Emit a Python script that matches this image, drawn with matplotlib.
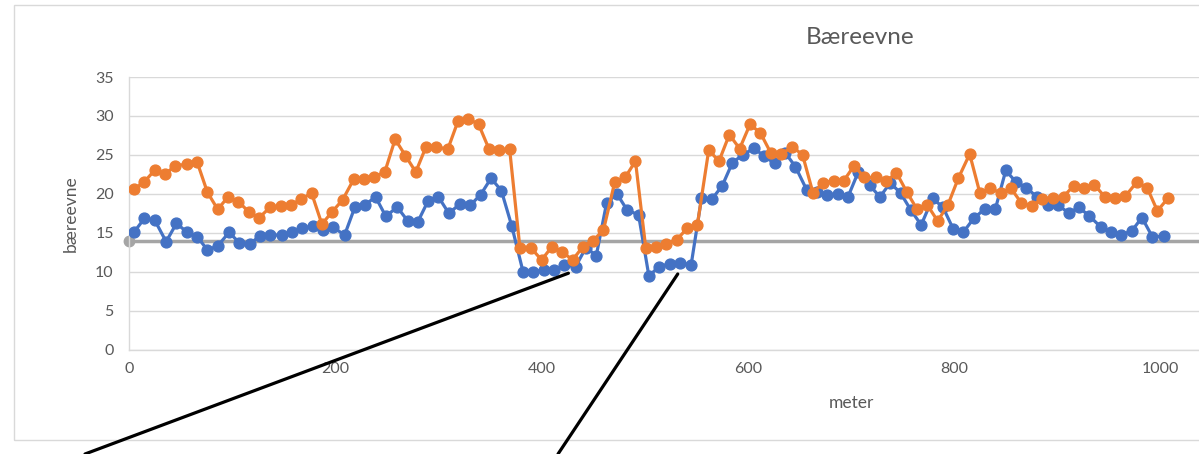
import matplotlib
matplotlib.use("Agg")
import matplotlib.pyplot as plt
from matplotlib.patches import Rectangle, ConnectionPatch

# Bearing capacity along the road, two measurement series and the limit line
meter_blue = [5, 15, 25, 36, 46, 56, 66, 76, 86, 97, 107, 117, 127, 137, 148, 158, 168, 178,
              188, 198, 209, 219, 229, 239, 249, 260, 270, 280, 290, 300, 310, 321, 331, 341,
              351, 361, 371, 382, 392, 402, 412, 422, 433, 443, 453, 463, 473, 483, 494, 504,
              514, 524, 534, 545, 555, 565, 575, 585, 595, 606, 616, 626, 636, 646, 657, 667,
              677, 687, 697, 707, 718, 728, 738, 748, 758, 768, 779, 789, 799, 809, 819, 830,
              840, 850, 860, 870, 880, 891, 901, 911, 921, 931, 942, 952, 962, 972, 982, 992,
              1003]
baereevne_blue = [15.1, 16.85, 16.6, 13.85, 16.2, 15.1, 14.5, 12.8, 13.3, 15.05, 13.7, 13.55,
                  14.6, 14.7, 14.7, 15.05, 15.55, 15.85, 15.35, 15.7, 14.7, 18.3, 18.6, 19.6,
                  17.1, 18.3, 16.55, 16.4, 19.1, 19.6, 17.5, 18.7, 18.55, 19.9, 22.0, 20.4,
                  15.9, 10.0, 10.0, 10.2, 10.2, 10.85, 10.65, 13.1, 12.05, 18.8, 20.0, 17.9,
                  17.3, 9.45, 10.65, 11.0, 11.1, 10.9, 19.4, 19.3, 21.0, 24.0, 25.0, 25.85,
                  24.8, 23.9, 25.3, 23.5, 20.5, 20.2, 19.85, 19.95, 19.6, 22.8, 21.1, 19.6,
                  21.4, 20.1, 17.9, 16.0, 19.4, 18.3, 15.5, 15.1, 16.85, 18.1, 18.1, 23.0,
                  21.5, 20.8, 19.6, 18.6, 18.5, 17.55, 18.25, 17.15, 15.75, 15.1, 14.75, 15.2,
                  16.95, 14.5, 14.55]

meter_orange = [5, 15, 25, 35, 45, 56, 66, 76, 86, 96, 106, 116, 126, 137, 147, 157, 167, 177,
                187, 197, 207, 218, 228, 238, 248, 258, 268, 278, 288, 298, 309, 319, 329, 339,
                349, 359, 369, 379, 390, 400, 410, 420, 430, 440, 450, 460, 471, 481, 491, 501,
                511, 521, 531, 541, 551, 562, 572, 582, 592, 602, 612, 622, 632, 643, 653, 663,
                673, 683, 693, 703, 713, 724, 734, 744, 754, 764, 774, 784, 794, 804, 815, 825,
                835, 845, 855, 865, 875, 885, 896, 906, 916, 926, 936, 946, 956, 966, 977, 987,
                997, 1007]
baereevne_orange = [20.6, 21.55, 23.05, 22.55, 23.6, 23.8, 24.1, 20.2, 18.0, 19.6, 19.0, 17.7,
                    16.9, 18.3, 18.4, 18.6, 19.3, 20.1, 16.1, 17.7, 19.2, 21.9, 21.9, 22.2,
                    22.8, 27.0, 24.9, 22.8, 26.05, 26.05, 25.7, 29.35, 29.65, 28.9, 25.75, 25.6,
                    25.75, 13.0, 13.0, 11.5, 13.2, 12.55, 11.5, 13.2, 14.0, 15.35, 21.55, 22.1,
                    24.2, 13.0, 13.2, 13.6, 14.1, 15.55, 16.0, 25.6, 24.2, 27.6, 25.8, 28.9,
                    27.85, 25.3, 25.05, 26.05, 25.0, 20.15, 21.4, 21.7, 21.7, 23.6, 22.1, 22.1,
                    21.6, 22.7, 20.25, 18.0, 18.55, 16.5, 18.6, 22.0, 25.1, 20.05, 20.7, 20.1,
                    20.7, 18.85, 18.4, 19.3, 19.5, 19.65, 21.05, 20.8, 21.15, 19.6, 19.45, 19.7,
                    21.5, 20.8, 17.8, 19.4]

limit_meter = [0, 1200]
limit_value = [14, 14]

# points the two callout lines start from (meter, bæreevne)
callouts = [(426, 9.8), (532, 9.7)]
callout_ends = [(0.0709, 0.0), (0.4654, 0.0)]

BLUE = "#4472C4"
ORANGE = "#ED7D31"
GRAY = "#A5A5A5"
TEXT = "#595959"
GRID = "#D9D9D9"

plt.rcParams["font.family"] = ["Lato", "DejaVu Sans"]

W, H = 1199, 454
fig = plt.figure(figsize=(W / 100, H / 100), dpi=100)

# chart frame (runs off the right edge)
fig.add_artist(Rectangle((14 / W, 1 - 440 / H), 1.2, (440 - 5) / H, transform=fig.transFigure,
                         fill=False, edgecolor=GRID, linewidth=1.0))

ax = fig.add_axes([129 / W, 1 - 349.5 / H, (W - 129) / W, (349.5 - 77) / H])
ax.set_xlim(0, (W - 129) / 1.0315)
ax.set_ylim(0, 35)

ax.plot(limit_meter, limit_value, color=GRAY, linewidth=2.5, marker="o", markersize=7.5,
        clip_on=False, zorder=2)
ax.plot(meter_blue, baereevne_blue, color=BLUE, linewidth=2.3, marker="o", markersize=7.8,
        zorder=3)
ax.plot(meter_orange, baereevne_orange, color=ORANGE, linewidth=2.3, marker="o", markersize=7.8,
        zorder=4)

ax.set_xticks([0, 200, 400, 600, 800, 1000])
ax.set_yticks(range(0, 36, 5))
ax.grid(axis="y", color=GRID, linewidth=1.0)
ax.set_axisbelow(True)
for side in ("top", "right"):
    ax.spines[side].set_visible(False)
for side in ("left", "bottom"):
    ax.spines[side].set_color(GRID)
    ax.spines[side].set_linewidth(1.0)
ax.tick_params(length=0, labelsize=11.5, labelcolor=TEXT)
ax.tick_params(axis="y", pad=11)
ax.tick_params(axis="x", pad=9)

ax.set_ylabel("bæreevne", fontsize=12.5, color=TEXT, labelpad=12)
fig.text(851 / W, 1 - 403 / H, "meter", ha="center", va="center", fontsize=12.5, color=TEXT)
fig.text(860 / W, 1 - 38 / H, "Bæreevne", ha="center", va="center", fontsize=17.5, color=TEXT)

# callout lines from the weak sections down past the chart
for (xm, yv), end in zip(callouts, callout_ends):
    con = ConnectionPatch(xyA=(xm, yv), coordsA=ax.transData, xyB=end,
                          coordsB=fig.transFigure, color="black", linewidth=2.3)
    fig.add_artist(con)

fig.savefig("out.png", dpi=100)
